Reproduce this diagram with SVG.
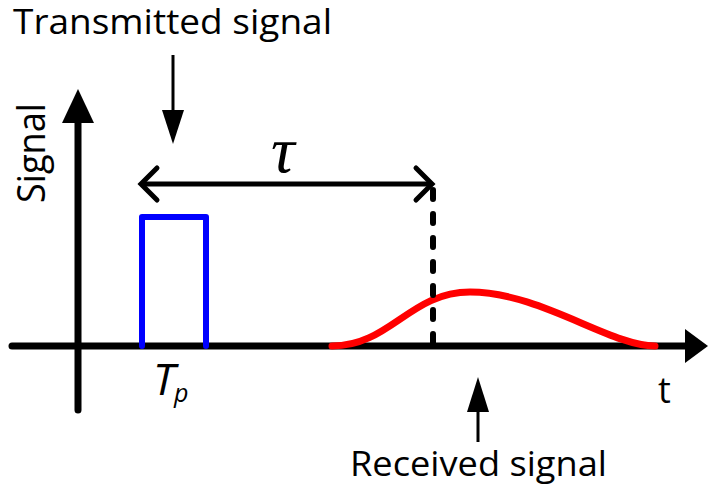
<svg xmlns="http://www.w3.org/2000/svg" width="708" height="485" viewBox="0 0 708 485">
<style>
.lbl{font-family:"Open Sans","Liberation Sans",sans-serif;fill:#000}
.ax{stroke:#000;stroke-width:7;fill:none;stroke-linecap:round}
.thin{stroke:#000;stroke-width:3;fill:none}
</style>
<rect width="708" height="485" fill="#fff"/>
<g id="axes">
<line class="ax" x1="12" y1="346" x2="690" y2="346"/>
<polygon points="685,329 708,346 685,363" fill="#000"/>
<line class="ax" x1="78" y1="410" x2="78" y2="118"/>
<polygon points="62,123 78,89 94,123" fill="#000"/>
</g>
<g id="transmitted-pulse">
<polyline points="142,346 142,217 206,217 206,346" fill="none" stroke="#0000ff" stroke-width="6" stroke-linecap="round" stroke-linejoin="round"/>
</g>
<g id="received-pulse">
<path d="M332,346 C390,346 410,292 470,292 C540,292 610,346 655,346" fill="none" stroke="#ff0000" stroke-width="7" stroke-linecap="round"/>
</g>
<g id="connectors">
<line x1="433" y1="190" x2="433" y2="346" stroke="#000" stroke-width="6" stroke-dasharray="9 15" stroke-linecap="round"/>
<line x1="141" y1="184" x2="432" y2="184" stroke="#000" stroke-width="5"/>
<polyline points="157,168 141,184 157,200" fill="none" stroke="#000" stroke-width="5" stroke-linecap="round"/>
<polyline points="416,168 432,184 416,200" fill="none" stroke="#000" stroke-width="5" stroke-linecap="round"/>
<line class="thin" x1="173" y1="55" x2="173" y2="112"/>
<polygon points="162,110 184,110 173,144" fill="#000"/>
<line class="thin" x1="478" y1="442" x2="478" y2="410"/>
<polygon points="467,412 489,412 478,377" fill="#000"/>
</g>
<g id="labels">
<text class="lbl" x="13" y="34" font-size="34" textLength="319" lengthAdjust="spacingAndGlyphs">Transmitted signal</text>
<text class="lbl" x="350" y="476" font-size="35" textLength="257" lengthAdjust="spacingAndGlyphs">Received signal</text>
<text class="lbl" transform="translate(45,203) rotate(-90)" font-size="39" textLength="100" lengthAdjust="spacingAndGlyphs">Signal</text>
<text x="271" y="172" font-family="'Liberation Serif','DejaVu Serif',serif" font-style="italic" font-size="66">τ</text>
<text class="lbl" x="153" y="395" font-size="44" font-style="italic">T</text>
<text class="lbl" x="174" y="402" font-size="25" font-style="italic">p</text>
<text class="lbl" x="658" y="403" font-size="36">t</text>
</g>
</svg>
